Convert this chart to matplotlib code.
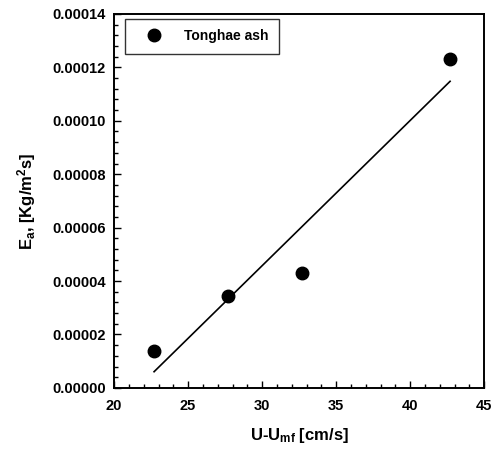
import matplotlib
matplotlib.use("Agg")
import matplotlib.pyplot as plt
from matplotlib.ticker import MultipleLocator, FormatStrFormatter
import numpy as np

plt.rcParams['font.family'] = ['Liberation Sans', 'DejaVu Sans']
plt.rcParams['font.weight'] = 'bold'
plt.rcParams['mathtext.default'] = 'regular'

# velocity difference U-Umf [cm/s] and attrition rate Ea [kg/m2 s]
u_diff = [22.7, 27.7, 32.7, 42.7]
ea = [0.0000139, 0.0000344, 0.000043, 0.0001232]
series_name = "Tonghae ash"

# linear regression through the points
slope, icpt = np.polyfit(u_diff, ea, 1)
xfit = np.array([min(u_diff), max(u_diff)])

fig = plt.figure(figsize=(4.94, 4.5), dpi=100)
ax = fig.add_axes([0.231, 0.138, 0.749, 0.831])

ax.plot(u_diff, ea, 'o', color='black', ms=9, label=series_name, zorder=3)
ax.plot(xfit, slope * xfit + icpt, '-', color='black', lw=1.2)

ax.set_xlim(20, 45)
ax.set_ylim(0, 0.00014)
ax.xaxis.set_major_locator(MultipleLocator(5))
ax.xaxis.set_minor_locator(MultipleLocator(1))
ax.yaxis.set_major_locator(MultipleLocator(0.00002))
ax.yaxis.set_minor_locator(MultipleLocator(0.000004))
ax.yaxis.set_major_formatter(FormatStrFormatter('%.5f'))

ax.tick_params(which='both', direction='in', top=False, right=False,
               labelsize=10.5, width=1)
ax.tick_params(which='major', length=5)
ax.tick_params(axis='x', which='major', pad=8)
ax.tick_params(axis='y', which='major', pad=6)
ax.tick_params(which='minor', length=3)
for lab in ax.get_xticklabels() + ax.get_yticklabels():
    lab.set_fontweight('bold')
for sp in ax.spines.values():
    sp.set_linewidth(1.4)

ax.set_xlabel(r'U-U$_{mf}$ [cm/s]', fontsize=12, fontweight='bold', labelpad=9)
ax.set_ylabel(r'E$_a$, [Kg/m$^2$s]', fontsize=12, fontweight='bold', labelpad=10)

leg = ax.legend(loc='upper left', bbox_to_anchor=(0.03, 0.987), borderaxespad=0,
                frameon=True, fancybox=False, borderpad=0.75, handletextpad=0.9,
                handlelength=2.6, prop={'weight': 'bold', 'size': 10})
leg.get_frame().set_edgecolor('black')
leg.get_frame().set_linewidth(1)

fig.savefig("out.png", dpi=100)
